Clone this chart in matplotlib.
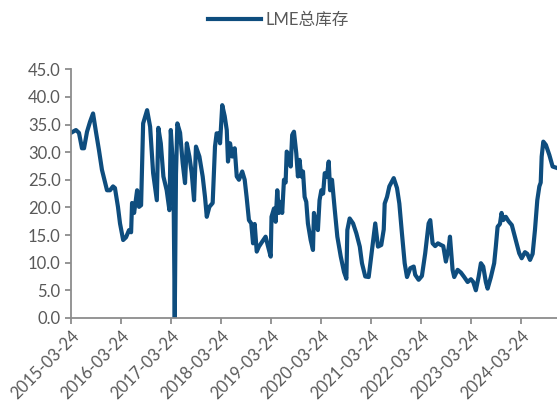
import matplotlib
matplotlib.use("Agg")
import matplotlib.pyplot as plt
import pandas as pd

# LME总库存
dates = [
    "2015-03-24", "2015-04-29", "2015-05-21", "2015-06-12", "2015-06-27", "2015-07-19",
    "2015-08-10", "2015-09-01", "2015-09-22", "2015-10-14", "2015-11-05", "2015-11-20",
    "2015-12-12", "2016-01-03", "2016-01-25", "2016-02-08", "2016-03-01", "2016-03-16",
    "2016-04-08", "2016-04-29", "2016-05-21", "2016-06-05", "2016-06-12", "2016-06-27",
    "2016-07-19", "2016-08-02", "2016-08-17", "2016-09-01", "2016-09-30", "2016-10-22",
    "2016-11-13", "2016-12-10", "2016-12-21", "2017-01-08", "2017-01-27", "2017-02-20",
    "2017-03-12", "2017-03-22", "2017-04-10", "2017-04-20", "2017-04-29", "2017-05-09",
    "2017-05-29", "2017-06-17", "2017-07-04", "2017-07-17", "2017-08-05", "2017-08-22",
    "2017-09-08", "2017-09-22", "2017-10-17", "2017-11-10", "2017-11-27", "2017-12-10",
    "2017-12-29", "2018-01-22", "2018-02-08", "2018-02-20", "2018-03-07", "2018-03-17",
    "2018-04-02", "2018-04-20", "2018-05-05", "2018-05-14", "2018-05-29", "2018-06-14",
    "2018-07-02", "2018-07-17", "2018-08-02", "2018-08-26", "2018-09-13", "2018-09-27",
    "2018-10-14", "2018-10-31", "2018-11-13", "2018-11-25", "2018-12-10", "2018-12-26",
    "2019-01-19", "2019-02-13", "2019-03-02", "2019-03-22", "2019-03-28", "2019-04-15",
    "2019-04-27", "2019-05-09", "2019-05-21", "2019-06-03", "2019-06-14", "2019-06-27",
    "2019-07-09", "2019-07-17", "2019-08-02", "2019-08-15", "2019-08-26", "2019-09-08",
    "2019-09-25", "2019-10-07", "2019-10-19", "2019-10-31", "2019-11-13", "2019-11-25",
    "2019-12-07", "2019-12-19", "2020-01-08", "2020-01-25", "2020-02-01", "2020-02-18",
    "2020-03-01", "2020-03-13", "2020-03-26", "2020-04-08", "2020-04-20", "2020-05-05",
    "2020-05-19", "2020-05-29", "2020-06-12", "2020-07-02", "2020-07-21", "2020-08-15",
    "2020-09-08", "2020-09-25", "2020-10-02", "2020-10-19", "2020-11-13", "2020-12-07",
    "2021-01-01", "2021-01-17", "2021-02-10", "2021-03-07", "2021-03-31", "2021-04-24",
    "2021-05-14", "2021-06-07", "2021-06-25", "2021-07-02", "2021-07-19", "2021-08-05",
    "2021-09-06", "2021-09-30", "2021-10-17", "2021-11-05", "2021-11-25", "2021-12-12",
    "2022-01-05", "2022-01-30", "2022-02-10", "2022-03-07", "2022-03-31", "2022-04-24",
    "2022-05-19", "2022-05-31", "2022-06-17", "2022-07-06", "2022-07-26", "2022-08-17",
    "2022-09-03", "2022-09-22", "2022-10-12", "2022-10-22", "2022-11-10", "2022-11-22",
    "2022-12-17", "2023-01-10", "2023-02-03", "2023-02-28", "2023-03-24", "2023-04-10",
    "2023-04-29", "2023-05-19", "2023-06-05", "2023-06-22", "2023-07-11", "2023-07-24",
    "2023-08-17", "2023-09-10", "2023-09-22", "2023-10-05", "2023-10-22", "2023-11-03",
    "2023-11-15", "2023-12-04", "2023-12-24", "2024-01-17", "2024-02-16", "2024-03-11",
    "2024-03-29", "2024-04-22", "2024-05-09", "2024-05-29", "2024-06-17", "2024-07-04",
    "2024-07-21", "2024-08-05", "2024-08-15", "2024-08-22", "2024-09-03", "2024-09-22",
    "2024-10-17", "2024-11-10", "2024-12-04",
]
stock = [
    33.5, 34.0, 33.5, 30.7, 30.7, 33.7,
    35.5, 37.0, 33.7, 30.4, 26.8, 25.3,
    23.1, 23.1, 23.8, 23.5, 20.1, 17.1,
    14.1, 14.6, 15.9, 15.5, 20.8, 19.0,
    23.1, 20.1, 20.4, 35.2, 37.6, 34.6,
    26.2, 21.3, 34.4, 31.6, 25.6, 23.1,
    19.5, 34.0, 26.2, 0.0, 26.0, 35.2,
    33.5, 28.0, 24.4, 31.6, 29.2, 26.2,
    21.3, 31.0, 29.2, 25.6, 21.9, 18.3,
    20.1, 20.8, 31.0, 33.4, 33.4, 31.6,
    38.5, 36.5, 34.0, 28.3, 31.6, 29.2,
    30.7, 25.6, 25.0, 26.5, 25.0, 21.9,
    17.7, 17.1, 13.5, 17.0, 12.0, 12.9,
    13.8, 14.7, 13.0, 11.1, 18.3, 19.8,
    17.4, 23.1, 19.0, 21.0, 19.0, 25.0,
    24.5, 30.1, 29.5, 27.4, 33.1, 33.7,
    29.8, 25.6, 28.6, 25.6, 26.5, 21.9,
    21.0, 17.1, 14.1, 12.3, 19.0, 17.1,
    15.9, 21.3, 23.1, 22.5, 26.2, 25.5,
    28.3, 23.1, 25.0, 19.6, 14.7, 11.1,
    8.3, 7.1, 15.9, 18.0, 17.1, 15.3,
    12.9, 9.9, 7.5, 7.4, 12.3, 17.1,
    12.9, 13.2, 16.0, 20.7, 21.9, 23.8,
    25.3, 23.5, 20.7, 15.3, 9.9, 7.4,
    9.0, 9.3, 7.8, 6.9, 7.6, 11.7,
    17.1, 17.7, 13.5, 13.0, 13.5, 13.2,
    13.0, 10.2, 12.6, 14.7, 8.7, 7.4,
    8.7, 8.2, 7.4, 6.5, 7.0, 6.5,
    5.0, 7.4, 9.9, 9.3, 6.5, 5.3,
    7.4, 9.9, 12.9, 16.5, 17.0, 19.0,
    17.7, 18.3, 17.5, 16.8, 14.0, 11.7,
    10.8, 11.9, 11.6, 10.5, 11.6, 15.9,
    21.3, 23.8, 24.5, 29.2, 31.9, 31.3,
    29.5, 27.4, 27.2,
]
tick_labels = ["2015-03-24", "2016-03-24", "2017-03-24", "2018-03-24", "2019-03-24",
               "2020-03-24", "2021-03-24", "2022-03-24", "2023-03-24", "2024-03-24"]
y_ticks = [0, 5, 10, 15, 20, 25, 30, 35, 40, 45]

plt.rcParams['font.family'] = ['Lato', 'Noto Sans CJK SC', 'DejaVu Sans']

grey = '#595959'
axis_grey = '#8c8c8c'

fig = plt.figure(figsize=(5.57, 4.05), dpi=100)
ax = fig.add_axes([0.1275, 0.215, 0.872, 0.614])

ax.plot(pd.to_datetime(dates), stock, color='#0E4D7E', linewidth=3.0,
        solid_joinstyle='round', label='LME总库存')

ax.set_xlim(pd.Timestamp("2015-03-24"), pd.Timestamp("2024-12-10"))
ax.set_ylim(0, 45)
ax.set_yticks(y_ticks)
ax.set_yticklabels([f"{v:.1f}" for v in y_ticks])
ax.set_xticks(pd.to_datetime(tick_labels))
ax.set_xticklabels(tick_labels, rotation=45, ha='right', rotation_mode='anchor')

for side in ['top', 'right']:
    ax.spines[side].set_visible(False)
for side in ['left', 'bottom']:
    ax.spines[side].set_color(axis_grey)
    ax.spines[side].set_linewidth(1.3)
ax.tick_params(axis='both', colors=axis_grey, labelcolor=grey, labelsize=12,
               length=4, width=1.3, direction='out')
ax.tick_params(axis='x', pad=3)

fig.legend(loc='center', bbox_to_anchor=(0.5, 0.95), frameon=False,
           fontsize=12, handlelength=3.2, labelcolor=grey, handletextpad=0.3)

plt.savefig('out.png', dpi=100)
plt.close()
